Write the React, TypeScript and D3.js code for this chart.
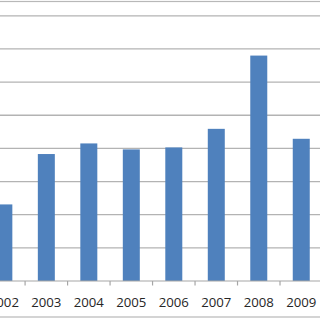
import React from "react";
import * as d3 from "d3";

const years = ["2002", "2003", "2004", "2005", "2006", "2007", "2008", "2009"];
const values = [23.1, 38.3, 41.5, 39.7, 40.3, 45.9, 68.0, 42.9];
const yTicks = [0, 10, 20, 30, 40, 50, 60, 70, 80];

const W = 320;
const H = 320;

export default function App() {
  const x = d3
    .scaleBand<string>()
    .domain(years)
    .range([-17.4, 322.5])
    .paddingInner(0.6)
    .paddingOuter(0.3);
  const y = d3.scaleLinear().domain([0, 80]).range([281, 15.8]);
  const step = x.step();
  const boundaries = years.map((yr) => (x(yr) as number) - step * 0.3);

  return (
    <svg
      width={W}
      height={H}
      style={{ position: "absolute", left: 0, top: 0, background: "#fff" }}
    >
      <rect x={-5} y={1.5} width={W + 10} height={315.5} fill="#fff" stroke="#b8b8b8" strokeWidth={1.2} />
      {yTicks.slice(1).map((t) => (
        <line key={t} x1={0} x2={W} y1={y(t)} y2={y(t)} stroke="#b3b3b3" strokeWidth={1.3} />
      ))}
      {years.map((yr, i) => (
        <rect
          key={yr}
          x={x(yr)}
          y={y(values[i])}
          width={x.bandwidth()}
          height={y(0) - y(values[i])}
          fill="#4f81bd"
        />
      ))}
      <line x1={0} x2={W} y1={y(0)} y2={y(0)} stroke="#a6a6a6" strokeWidth={1.2} />
      {boundaries.map((b, i) => (
        <line key={i} x1={b} x2={b} y1={y(0)} y2={y(0) + 4.5} stroke="#a6a6a6" strokeWidth={1.2} />
      ))}
      {years.map((yr) => (
        <text
          key={yr}
          x={(x(yr) as number) + x.bandwidth() / 2}
          y={306.5}
          textAnchor="middle"
          fontFamily="'Open Sans', sans-serif"
          fontSize={13.2}
          fill="#262626"
        >
          {yr}
        </text>
      ))}
    </svg>
  );
}
